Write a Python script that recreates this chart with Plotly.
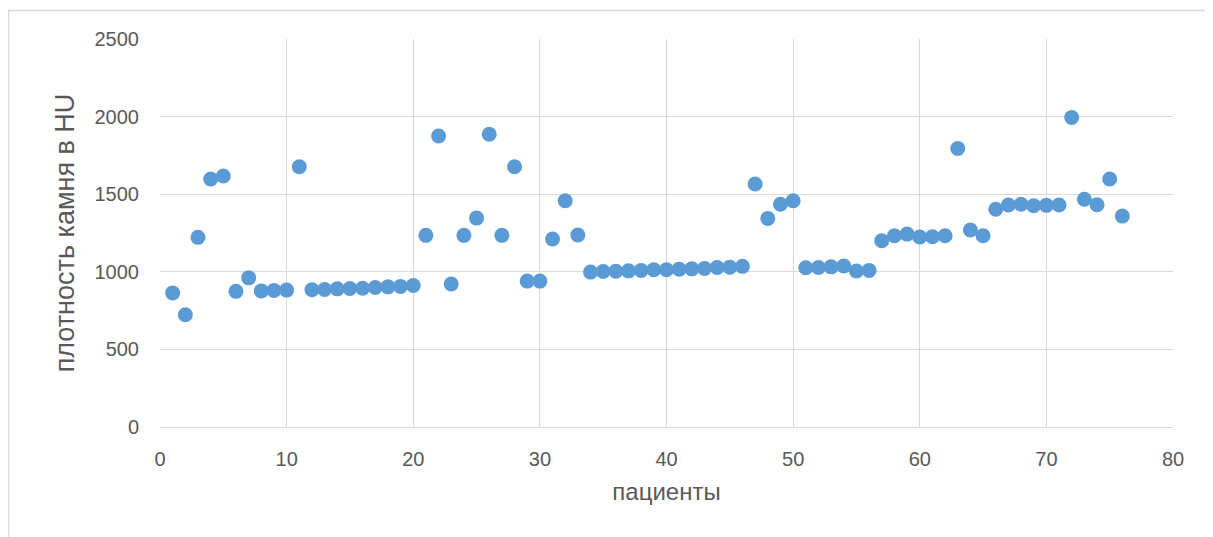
import plotly.graph_objects as go

patients = list(range(1, 77))
density_hu = [
    864, 723, 1222, 1598, 1617, 874, 961, 877, 880, 882,
    1677, 884, 886, 890, 892, 894, 899, 903, 906, 912,
    1235, 1875, 921, 1235, 1346, 1886, 1235, 1677, 940, 940,
    1211, 1458, 1237, 998, 1002, 1004, 1006, 1008, 1013, 1013,
    1017, 1019, 1021, 1028, 1030, 1035, 1566, 1344, 1435, 1458,
    1026, 1028, 1032, 1037, 1005, 1009, 1200, 1232, 1243, 1224,
    1226, 1232, 1794, 1269, 1232, 1403, 1430, 1435, 1426, 1428,
    1430, 1994, 1467, 1432, 1598, 1359,
]
x_ticks = [0, 10, 20, 30, 40, 50, 60, 70, 80]
y_ticks = [0, 500, 1000, 1500, 2000, 2500]
x_title = "пациенты"
y_title = "плотность камня в HU"

W, H = 1205, 529
L, R, T, B = 152, 40, 31, 110
pw, ph = W - L - R, H - T - B

fig = go.Figure()
fig.add_trace(go.Scatter(
    x=patients, y=density_hu, mode="markers",
    marker=dict(size=15, color="#5B9BD5", line=dict(width=0)),
    showlegend=False, cliponaxis=False,
))

font_family = "Liberation Sans, Arial, sans-serif"
fig.update_layout(
    width=W, height=H,
    margin=dict(l=L, r=R, t=T, b=B),
    paper_bgcolor="white", plot_bgcolor="white",
    font=dict(family=font_family, color="#595959"),
    xaxis=dict(
        range=[0, 80], tickvals=x_ticks, ticks="",
        showgrid=True, gridcolor="#D9D9D9", gridwidth=1.3,
        zeroline=False, showline=True, linecolor="#D9D9D9", linewidth=1.3,
        tickfont=dict(size=20, color="#595959"),
        ticklabelstandoff=14,
        title=dict(text=x_title, font=dict(size=24, color="#595959"), standoff=14),
    ),
    yaxis=dict(
        range=[0, 2500], tickvals=y_ticks, ticks="",
        showgrid=True, gridcolor="#D9D9D9", gridwidth=1.3,
        zeroline=False, showline=False,
        tickfont=dict(size=20, color="#595959"),
        ticklabelstandoff=20,
        title=dict(text=y_title, font=dict(size=27, color="#595959"), standoff=12),
    ),
    shapes=[
        dict(type="line", xref="paper", yref="paper",
             x0=(0 - L) / pw, x1=(W + 10 - L) / pw,
             y0=(H - B - 2.5) / ph, y1=(H - B - 2.5) / ph,
             line=dict(color="#D9D9D9", width=1.5)),
        dict(type="line", xref="paper", yref="paper",
             x0=(0.5 - L) / pw, x1=(0.5 - L) / pw,
             y0=(H - B - 2.5) / ph, y1=(H - B - H - 10) / ph,
             line=dict(color="#D9D9D9", width=1.5)),
    ],
)

fig.write_html("out.html")
